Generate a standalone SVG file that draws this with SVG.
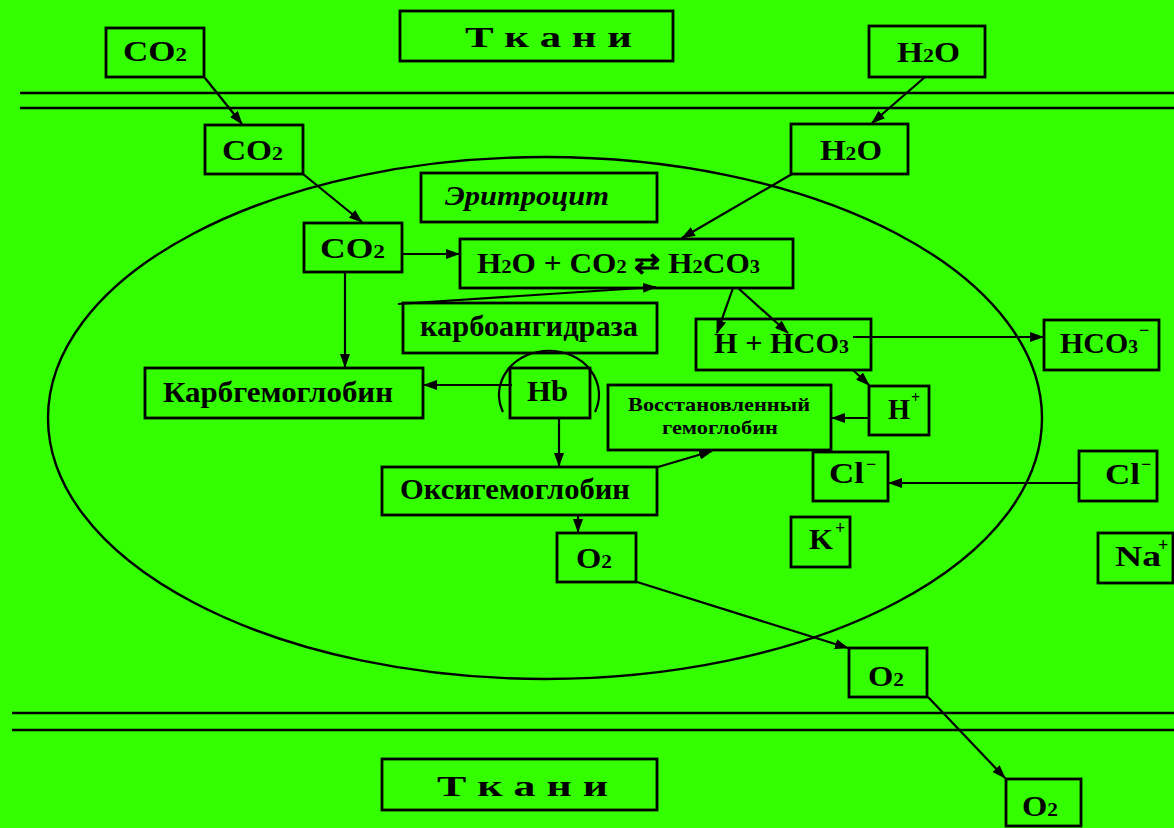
<svg xmlns="http://www.w3.org/2000/svg" width="1174" height="828" viewBox="0 0 1174 828">
<defs>
<style>
.bx{fill:none;stroke:#000;stroke-width:2.8}
.t{font-family:"Liberation Serif","Times New Roman",serif;font-weight:bold;fill:#000;font-size:29px}
.s{font-size:19px}
.sup{font-family:"Liberation Serif","Times New Roman",serif;font-weight:bold;fill:#000;font-size:18px}
.c{stroke:#000;stroke-width:2.2;fill:none}
.a{marker-end:url(#ah)}
.m{stroke:#000;stroke-width:2.4;fill:none}
</style>
<marker id="ah" markerWidth="14" markerHeight="10" refX="13" refY="5" orient="auto" markerUnits="userSpaceOnUse">
<path d="M0,0 L14,5 L0,10 z" fill="#000"/>
</marker>
</defs>
<rect width="1174" height="828" fill="#33ff00"/>

<g id="membranes">
<line class="m" x1="20" y1="93" x2="1174" y2="93"/>
<line class="m" x1="20" y1="108" x2="1174" y2="108"/>
<line class="m" x1="12" y1="713" x2="1174" y2="713"/>
<line class="m" x1="12" y1="730" x2="1174" y2="730"/>
<ellipse class="m" cx="545" cy="418" rx="497" ry="261"/>
</g>

<g id="connectors">
<path class="c a" d="M205 78 L242 124"/>
<path class="c a" d="M303 174 L362 222"/>
<path class="c a" d="M925 77 L872 123"/>
<path class="c a" d="M792 174 L682 238"/>
<path class="c a" d="M402 254 L459 254"/>
<path class="c a" d="M398 304 L656 287"/>
<path class="c a" d="M733 288 L717 333"/>
<path class="c a" d="M738 288 L788 333"/>
<path class="c a" d="M853 337 L1043 337"/>
<path class="c a" d="M853 370 L869 385"/>
<path class="c a" d="M869 418 L832 418"/>
<path class="c a" d="M345 272 L345 367"/>
<path class="c a" d="M512 385 L424 385"/>
<path class="c a" d="M559 418 L559 466"/>
<path class="c a" d="M658 467 L712 451"/>
<path class="c a" d="M578 515 L578 532"/>
<path class="c a" d="M1079 483 L889 483"/>
<path class="c a" d="M637 582 L848 648"/>
<path class="c a" d="M928 697 L1005 778"/>
</g>

<g id="tkani-top">
<rect class="bx" x="400" y="11" width="273" height="50"/>
<text class="t" x="465" y="47" style="font-size:30px" textLength="167" lengthAdjust="spacingAndGlyphs">Т к а н и</text>
</g>
<g id="co2-tissue">
<rect class="bx" x="106" y="28" width="98" height="49"/>
<text class="t" x="123" y="61" textLength="64" lengthAdjust="spacingAndGlyphs">CO<tspan class="s">2</tspan></text>
</g>
<g id="h2o-tissue">
<rect class="bx" x="869" y="26" width="116" height="51"/>
<text class="t" x="897" y="62" textLength="63" lengthAdjust="spacingAndGlyphs">H<tspan class="s">2</tspan>O</text>
</g>
<g id="co2-plasma">
<rect class="bx" x="205" y="125" width="98" height="49"/>
<text class="t" x="222" y="160" textLength="61" lengthAdjust="spacingAndGlyphs">CO<tspan class="s">2</tspan></text>
</g>
<g id="h2o-plasma">
<rect class="bx" x="791" y="124" width="117" height="50"/>
<text class="t" x="820" y="160" textLength="62" lengthAdjust="spacingAndGlyphs">H<tspan class="s">2</tspan>O</text>
</g>
<g id="erythrocyte">
<rect class="bx" x="421" y="173" width="236" height="49"/>
<text class="t" x="445" y="205" style="font-size:27px;font-style:italic" textLength="164" lengthAdjust="spacingAndGlyphs">Эритроцит</text>
</g>
<g id="co2-cell">
<rect class="bx" x="304" y="223" width="98" height="49"/>
<text class="t" x="320" y="258" textLength="65" lengthAdjust="spacingAndGlyphs">CO<tspan class="s">2</tspan></text>
</g>
<g id="equation">
<rect class="bx" x="460" y="239" width="333" height="49"/>
<text class="t" x="477" y="273" textLength="283" lengthAdjust="spacingAndGlyphs">H<tspan class="s">2</tspan>O + CO<tspan class="s">2</tspan> ⇄ H<tspan class="s">2</tspan>CO<tspan class="s">3</tspan></text>
</g>
<g id="carboanhydrase">
<rect class="bx" x="403" y="303" width="254" height="50"/>
<text class="t" x="420" y="336" textLength="218" lengthAdjust="spacingAndGlyphs">карбоангидраза</text>
</g>
<g id="dissociation">
<rect class="bx" x="696" y="319" width="175" height="51"/>
<text class="t" x="714" y="353" textLength="135" lengthAdjust="spacingAndGlyphs">H + HCO<tspan class="s">3</tspan></text>
</g>
<g id="hco3-out">
<rect class="bx" x="1044" y="320" width="115" height="50"/>
<text class="t" x="1060" y="353" textLength="78" lengthAdjust="spacingAndGlyphs">HCO<tspan class="s">3</tspan></text>
<text class="sup" x="1139" y="336">−</text>
</g>
<g id="carbhemoglobin">
<rect class="bx" x="145" y="368" width="278" height="50"/>
<text class="t" x="163" y="402" textLength="230" lengthAdjust="spacingAndGlyphs">Карбгемоглобин</text>
</g>
<g id="hb">
<rect class="bx" x="510" y="368" width="80" height="50"/>
<path class="c" d="M503 412 A50 44 0 1 1 595 412"/>
<text class="t" x="527" y="401" textLength="41" lengthAdjust="spacingAndGlyphs">Hb</text>
</g>
<g id="reduced-hb">
<rect class="bx" x="608" y="385" width="223" height="65"/>
<text class="t" x="628" y="411" style="font-size:19px" textLength="182" lengthAdjust="spacingAndGlyphs">Восстановленный</text>
<text class="t" x="662" y="434" style="font-size:19px" textLength="116" lengthAdjust="spacingAndGlyphs">гемоглобин</text>
</g>
<g id="h-plus">
<rect class="bx" x="869" y="386" width="60" height="49"/>
<text class="t" x="888" y="419" textLength="22" lengthAdjust="spacingAndGlyphs">H</text>
<text class="sup" x="911" y="403" style="font-size:16px">+</text>
</g>
<g id="cl-in">
<rect class="bx" x="813" y="452" width="75" height="49"/>
<text class="t" x="829" y="483" textLength="35" lengthAdjust="spacingAndGlyphs">Cl</text>
<text class="sup" x="866" y="470">−</text>
</g>
<g id="cl-out">
<rect class="bx" x="1079" y="451" width="78" height="50"/>
<text class="t" x="1105" y="484" textLength="35" lengthAdjust="spacingAndGlyphs">Cl</text>
<text class="sup" x="1141" y="470">−</text>
</g>
<g id="oxyhemoglobin">
<rect class="bx" x="382" y="467" width="275" height="48"/>
<text class="t" x="400" y="499" textLength="230" lengthAdjust="spacingAndGlyphs">Оксигемоглобин</text>
</g>
<g id="k-plus">
<rect class="bx" x="791" y="517" width="59" height="50"/>
<text class="t" x="809" y="549" textLength="24" lengthAdjust="spacingAndGlyphs">K</text>
<text class="sup" x="835" y="534">+</text>
</g>
<g id="na-plus">
<rect class="bx" x="1098" y="533" width="75" height="50"/>
<text class="t" x="1115" y="566" textLength="46" lengthAdjust="spacingAndGlyphs">Na</text>
<text class="sup" x="1158" y="551">+</text>
</g>
<g id="o2-cell">
<rect class="bx" x="557" y="533" width="79" height="49"/>
<text class="t" x="576" y="568" textLength="36" lengthAdjust="spacingAndGlyphs">O<tspan class="s">2</tspan></text>
</g>
<g id="o2-plasma">
<rect class="bx" x="849" y="648" width="78" height="49"/>
<text class="t" x="868" y="686" textLength="36" lengthAdjust="spacingAndGlyphs">O<tspan class="s">2</tspan></text>
</g>
<g id="o2-tissue">
<rect class="bx" x="1006" y="779" width="75" height="47"/>
<text class="t" x="1022" y="816" textLength="36" lengthAdjust="spacingAndGlyphs">O<tspan class="s">2</tspan></text>
</g>
<g id="tkani-bottom">
<rect class="bx" x="382" y="759" width="275" height="51"/>
<text class="t" x="437" y="796" style="font-size:30px" textLength="171" lengthAdjust="spacingAndGlyphs">Т к а н и</text>
</g>
</svg>
